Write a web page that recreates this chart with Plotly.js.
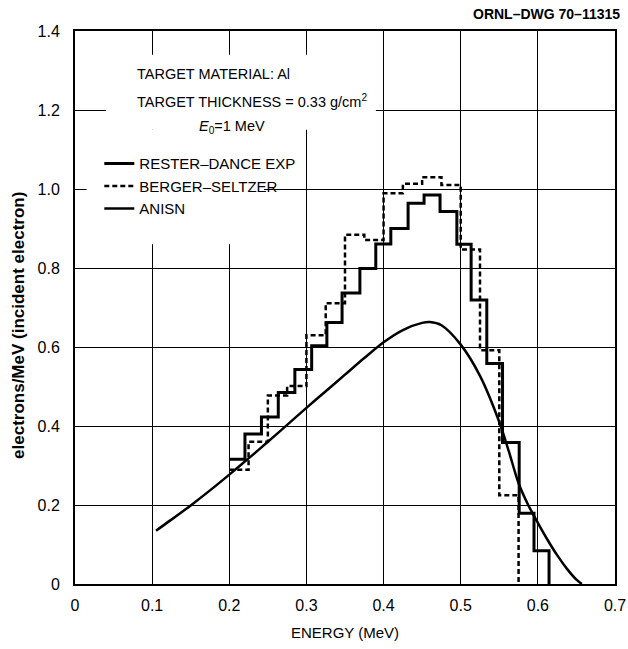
<!DOCTYPE html>
<html>
<head>
<meta charset="utf-8">
<script src="https://cdn.plot.ly/plotly-3.0.1.min.js"></script>
<style>
  html, body { margin: 0; padding: 0; background: #ffffff; }
  #chart { width: 628px; height: 649px; }
</style>
</head>
<body>
<div id="chart"></div>
<script>
// ---- Data ----
// Rester-Dance experiment: histogram bin edges (MeV) and heights
var rdEdges = [0.200, 0.2203, 0.2417, 0.2635, 0.2850, 0.3068, 0.3265, 0.3462, 0.3693, 0.3899,
               0.4094, 0.4318, 0.4525, 0.4732, 0.4950, 0.5135, 0.5338, 0.5542, 0.5758, 0.5950, 0.6145];
var rdValues = [0.316, 0.380, 0.423, 0.485, 0.543, 0.603, 0.662, 0.737, 0.799, 0.861,
                0.900, 0.964, 0.985, 0.943, 0.860, 0.719, 0.558, 0.358, 0.179, 0.084];

// Berger-Seltzer: histogram bin edges (MeV) and heights
var bsEdges = [0.200, 0.225, 0.250, 0.275, 0.300, 0.325, 0.350, 0.375,
               0.400, 0.425, 0.450, 0.475, 0.500, 0.525, 0.550, 0.575];
var bsValues = [0.289, 0.360, 0.477, 0.501, 0.630, 0.711, 0.884, 0.871,
                0.989, 1.013, 1.030, 1.010, 0.847, 0.592, 0.225];

// ANISN calculation: smooth curve
var anisnEnergy = [0.105, 0.125, 0.150, 0.175, 0.200, 0.225, 0.250, 0.275, 0.300, 0.325,
                   0.350, 0.375, 0.400, 0.425, 0.450, 0.460, 0.475, 0.500, 0.525, 0.550,
                   0.5625, 0.575, 0.5875, 0.600, 0.6125, 0.625, 0.6375, 0.650, 0.657];
var anisnValues = [0.135, 0.163, 0.199, 0.237, 0.277, 0.318, 0.360, 0.403, 0.446, 0.488,
                   0.530, 0.572, 0.612, 0.643, 0.661, 0.663, 0.655, 0.606, 0.527, 0.410,
                   0.335, 0.255, 0.200, 0.155, 0.112, 0.073, 0.039, 0.011, 0.000];

var xTicks = [0, 0.1, 0.2, 0.3, 0.4, 0.5, 0.6, 0.7];
var xTickText = ['0', '0.1', '0.2', '0.3', '0.4', '0.5', '0.6', '0.7'];
var yTicks = [0, 0.2, 0.4, 0.6, 0.8, 1.0, 1.2, 1.4];
var yTickText = ['0', '0.2', '0.4', '0.6', '0.8', '1.0', '1.2', '1.4'];

var seriesNames = ['RESTER\u2013DANCE EXP', 'BERGER\u2013SELTZER', 'ANISN'];

// histogram step paths: each edge carries its bin height, final edge drops to zero
function stepY(values) { return values.concat([0]); }

var FONT = 'Liberation Sans, Arial, sans-serif';

var traces = [
  {
    x: rdEdges, y: stepY(rdValues), name: seriesNames[0],
    mode: 'lines', line: { shape: 'hv', color: '#000000', width: 3 },
    hoverinfo: 'skip'
  },
  {
    x: bsEdges, y: stepY(bsValues), name: seriesNames[1],
    mode: 'lines', line: { shape: 'hv', color: '#000000', width: 2.5, dash: '5px,3px' },
    hoverinfo: 'skip'
  },
  {
    x: anisnEnergy, y: anisnValues, name: seriesNames[2],
    mode: 'lines', line: { shape: 'spline', smoothing: 0.8, color: '#000000', width: 2.5 },
    hoverinfo: 'skip'
  }
];

var layout = {
  width: 628, height: 649,
  margin: { l: 75, r: 13, t: 31, b: 65 },
  paper_bgcolor: '#ffffff', plot_bgcolor: '#ffffff',
  font: { family: FONT, color: '#000000', size: 15 },
  showlegend: true,
  legend: {
    x: 0.045, y: 0.79, xanchor: 'left', yanchor: 'top',
    bgcolor: 'rgba(0,0,0,0)', borderwidth: 0,
    font: { family: FONT, size: 15, color: '#000000' },
    tracegroupgap: 0
  },
  xaxis: {
    range: [0, 0.7], tickvals: xTicks, ticktext: xTickText,
    showgrid: true, gridcolor: '#000000', gridwidth: 1,
    zeroline: false, showline: true, linecolor: '#000000', linewidth: 2, mirror: true,
    ticks: '', tickfont: { size: 16, family: FONT }, ticklabelstandoff: 6,
    title: { text: 'ENERGY (MeV)', font: { size: 15, family: FONT }, standoff: 14 }
  },
  yaxis: {
    range: [0, 1.4], tickvals: yTicks, ticktext: yTickText,
    showgrid: true, gridcolor: '#000000', gridwidth: 1,
    zeroline: false, showline: true, linecolor: '#000000', linewidth: 2, mirror: true,
    ticks: '', tickfont: { size: 16, family: FONT }, ticklabelstandoff: 10
  },
  shapes: [
    { type: 'rect', xref: 'x', yref: 'y', x0: 0.04, x1: 0.39, y0: 1.15, y1: 1.34,
      fillcolor: '#ffffff', line: { width: 0 }, layer: 'between' },
    { type: 'rect', xref: 'x', yref: 'y', x0: 0.015, x1: 0.245, y0: 0.86, y1: 1.15,
      fillcolor: '#ffffff', line: { width: 0 }, layer: 'between' }
  ],
  annotations: [
    { xref: 'paper', yref: 'paper', x: -0.106, y: 0.468, xanchor: 'center', yanchor: 'middle',
      textangle: -90, text: '<b>electrons/MeV (incident electron)</b>', showarrow: false,
      font: { size: 17, family: FONT } },
    { xref: 'paper', yref: 'paper', x: 1.013, y: 1.031, xanchor: 'right', yanchor: 'middle',
      text: '<b>ORNL\u2013DWG 70\u201311315</b>', showarrow: false, font: { size: 14, family: FONT } },
    { xref: 'paper', yref: 'paper', x: 0.112, y: 0.922, xanchor: 'left', yanchor: 'middle',
      text: 'TARGET MATERIAL: Al', showarrow: false, font: { size: 14.5, family: FONT } },
    { xref: 'paper', yref: 'paper', x: 0.112, y: 0.873, xanchor: 'left', yanchor: 'middle',
      text: 'TARGET THICKNESS = 0.33 g/cm<sup>2</sup>', showarrow: false, font: { size: 14.5, family: FONT } },
    { xref: 'paper', yref: 'paper', x: 0.226, y: 0.826, xanchor: 'left', yanchor: 'middle',
      text: '<i>E</i><sub>0</sub>=1 MeV', showarrow: false, font: { size: 14.5, family: FONT } }
  ]
};

Plotly.newPlot('chart', traces, layout, { staticPlot: true, displayModeBar: false });
</script>
</body>
</html>
